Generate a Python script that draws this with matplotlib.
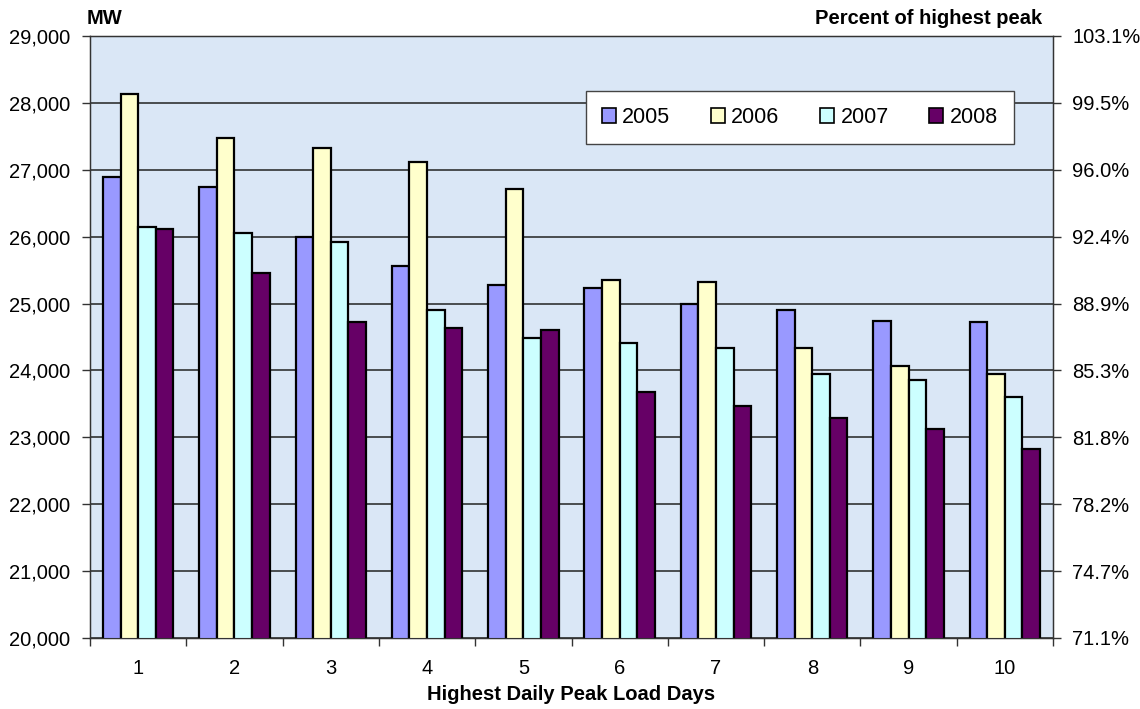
import numpy as np
import matplotlib.pyplot as plt
from matplotlib.ticker import FixedLocator, FuncFormatter

plt.rcParams['font.family'] = ['Liberation Sans', 'DejaVu Sans']

days = [1, 2, 3, 4, 5, 6, 7, 8, 9, 10]
years = ["2005", "2006", "2007", "2008"]

# daily peak loads, MW
load_2005 = [26890, 26740, 25990, 25560, 25280, 25240, 24990, 24910, 24740, 24720]
load_2006 = [28130, 27470, 27330, 27110, 26720, 25350, 25320, 24330, 24070, 23940]
load_2007 = [26150, 26060, 25920, 24910, 24490, 24410, 24330, 23950, 23850, 23610]
load_2008 = [26120, 25450, 24730, 24640, 24600, 23680, 23470, 23290, 23120, 22830]

colors = ["#9999ff", "#ffffcc", "#ccffff", "#660066"]

series = [load_2005, load_2006, load_2007, load_2008]
peak = max(max(s) for s in series)

fig = plt.figure(figsize=(11.4, 7.09), dpi=100)
ax = fig.add_axes([90 / 1140, 71 / 709, 963 / 1140, 602 / 709])
ax.set_facecolor("#dae7f6")

x = np.arange(len(days)) + 1
width = 0.183
for i, (vals, yr) in enumerate(zip(series, years)):
    ax.bar(x + (i - 1.5) * width, vals, width, color=colors[i],
           edgecolor="black", linewidth=1.6, label=yr, zorder=3)

ax.set_xlim(0.5, 10.5)
ax.set_ylim(20000, 29000)
ax.set_yticks(np.arange(20000, 29001, 1000))
ax.yaxis.set_major_formatter(FuncFormatter(lambda v, p: f"{int(v):,}"))
ax.grid(axis="y", color="#222222", linewidth=1.1, zorder=1)

ax.xaxis.set_major_locator(FixedLocator(np.arange(0.5, 11, 1)))
ax.xaxis.set_major_formatter(FuncFormatter(lambda v, p: ""))
ax.xaxis.set_minor_locator(FixedLocator(x))
ax.set_xticklabels([str(d) for d in days], minor=True)
ax.tick_params(axis="x", which="minor", length=0, labelsize=14.5, pad=15)
ax.tick_params(axis="x", which="major", length=6, width=1, color="#333333")
ax.tick_params(axis="y", length=6, width=1, labelsize=14.5, pad=8, color="#333333")

for s in ax.spines.values():
    s.set_color("#333333")
    s.set_linewidth(1.0)

# right axis: share of the highest peak
ax2 = ax.twinx()
ax2.set_ylim(20000 / peak, 29000 / peak)
ax2.set_yticks(np.arange(20000, 29001, 1000) / peak)
ax2.yaxis.set_major_formatter(FuncFormatter(lambda v, p: f"{v * 100:.1f}%"))
ax2.tick_params(axis="y", length=6, width=1, labelsize=14.5, pad=8, color="#333333")
for s in ax2.spines.values():
    s.set_color("#333333")

ax.set_xlabel("Highest Daily Peak Load Days", fontsize=14.5, fontweight="bold", labelpad=5)
fig.text(87 / 1140, 1 - 18 / 709, "MW", fontsize=14.5, fontweight="bold",
         ha="left", va="center")
fig.text(1042 / 1140, 1 - 18 / 709, "Percent of highest peak", fontsize=14.5,
         fontweight="bold", ha="right", va="center")

leg = ax.legend(loc="upper left", bbox_to_anchor=(0.5146, 0.8272, 0.4449, 0.0814),
                mode="expand", ncol=4, fontsize=15.5, frameon=True, fancybox=False,
                borderaxespad=0, handlelength=0.65, handleheight=0.65,
                handletextpad=0.3, borderpad=0.75, columnspacing=1.0)
leg.get_frame().set_edgecolor("#444444")
leg.get_frame().set_linewidth(1.0)
leg.get_frame().set_facecolor("white")
leg.get_frame().set_alpha(1)
leg.set_zorder(5)
for h in leg.legend_handles:
    h.set_linewidth(1.2)

fig.savefig("out.png", dpi=100)
